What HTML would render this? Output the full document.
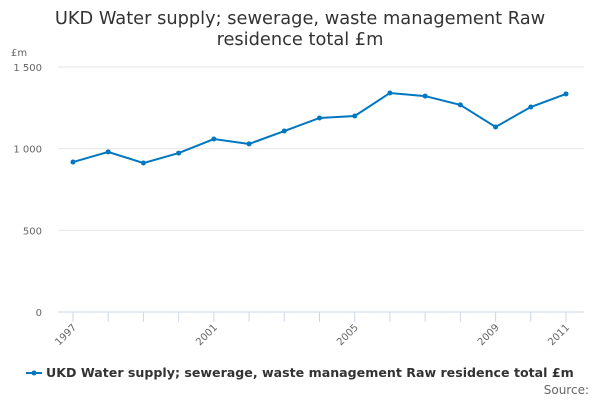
<!DOCTYPE html>
<html><head><meta charset="utf-8"><style>
body{margin:0;background:#fff;font-family:"Liberation Sans","DejaVu Sans",sans-serif;}
svg text{font-family:"DejaVu Sans","Liberation Sans",sans-serif;}
</style></head><body>
<svg id="c" width="600" height="400">
<text x="300" y="24" text-anchor="middle" font-size="17.8" fill="#333"><tspan x="300">UKD Water supply; sewerage, waste management Raw</tspan><tspan x="300" dy="21">residence total £m</tspan></text>
<text x="11" y="56" font-size="10" fill="#666">£m</text>
<g id="grid"></g><g id="xt"></g><g id="series"></g>
<g>
<line x1="26" y1="373" x2="42" y2="373" stroke="#0077c0" stroke-width="2"/><circle cx="34" cy="373" r="2.5" fill="#0077c0"/>
<text x="46" y="377" font-size="12.6" font-weight="bold" fill="#333">UKD Water supply; sewerage, waste management Raw residence total £m</text></g>
<text x="589" y="394" text-anchor="end" font-size="12" fill="#666">Source:</text>
</svg>
<script>
const years=[1997,1998,1999,2000,2001,2002,2003,2004,2005,2006,2007,2008,2009,2010,2011];
const values=[918,980,912,973,1059,1029,1108,1188,1200,1341,1322,1268,1133,1255,1335];
const yTicks=[0,500,1000,1500];
const yTickLabels=["0","500","1 000","1 500"];
const xTickLabels=[1997,2001,2005,2009,2011];
const ns="http://www.w3.org/2000/svg";
const X=y=>73+(y-1997)*(566-73)/14;
const Y=v=>312-v*245/1500;
function mk(t,a,p){const e=document.createElementNS(ns,t);for(const k in a)e.setAttribute(k,a[k]);p.appendChild(e);return e;}
const g=document.getElementById('grid');
yTicks.forEach((t,i)=>{
const l=mk('line',{x1:58,x2:584,y1:Y(t),y2:Y(t),stroke:i==0?'#ccd6eb':'#e6e6e6'},g);


const tx=mk('text',{x:42,y:Y(t)+4,'text-anchor':'end','font-size':10,fill:'#666'},g);tx.textContent=yTickLabels[i];


});
const xt=document.getElementById('xt');
years.forEach(y=>{const l=mk('line',{x1:X(y),x2:X(y),y1:312,y2:322,stroke:'#ccd6eb'},xt);

});
xTickLabels.forEach(y=>{const t=mk('text',{x:X(y)+4,y:328,'text-anchor':'end','font-size':10,fill:'#666',transform:`rotate(-45 ${X(y)+4} 328)`},xt);t.textContent=y;

});
const s=document.getElementById('series');
const p=mk('path',{d:years.map((y,i)=>(i?'L':'M')+X(y)+' '+Y(values[i])).join(' '),fill:'none',stroke:'#0077c0','stroke-width':2},s);


years.forEach((y,i)=>{const c=mk('circle',{cx:X(y),cy:Y(values[i]),r:2.5,fill:'#0077c0'},s);

});
</script>
</body></html>
